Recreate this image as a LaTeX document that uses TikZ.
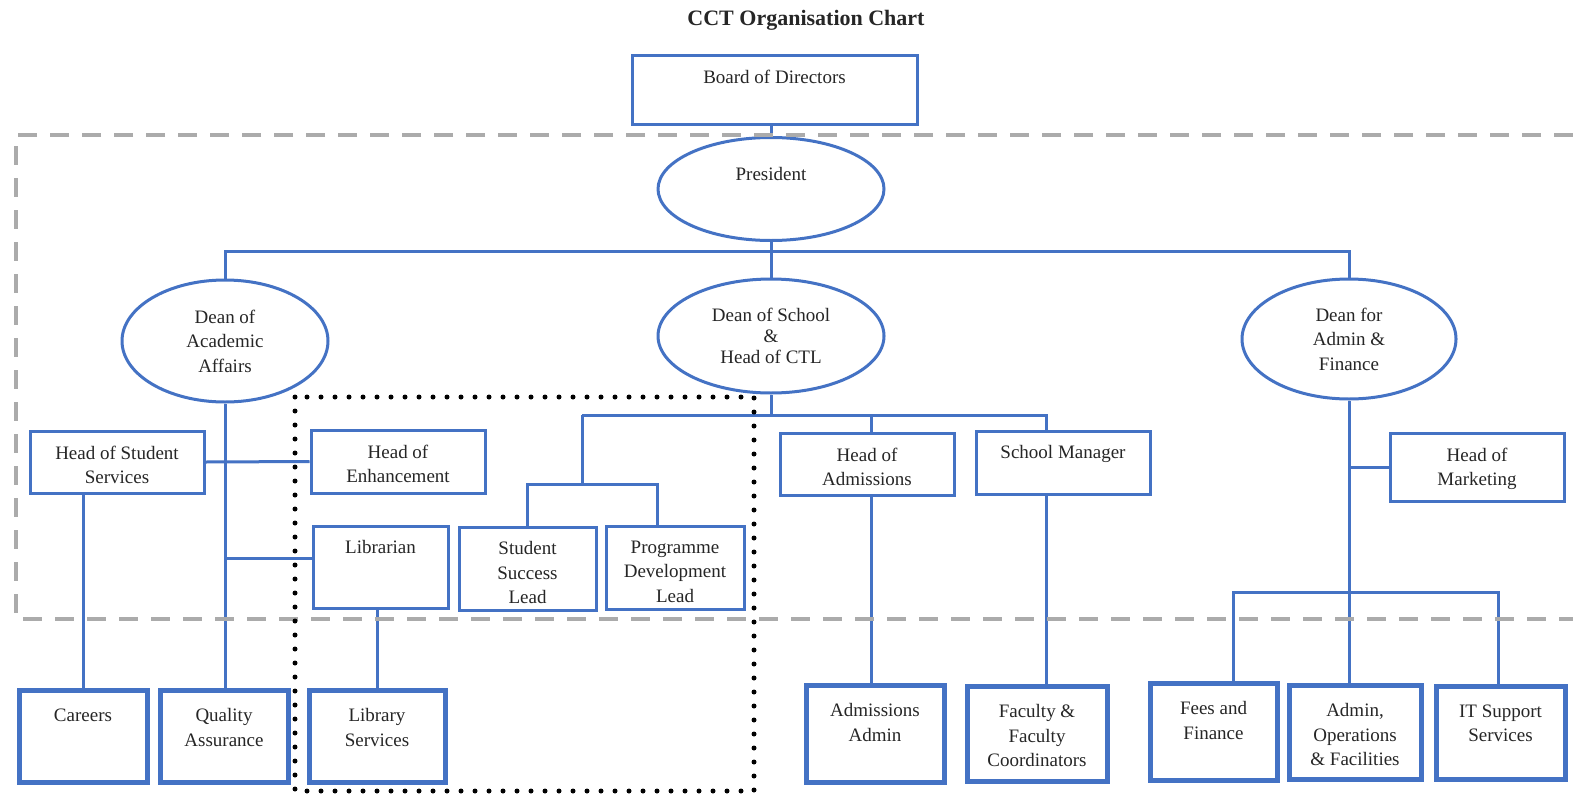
\documentclass[tikz,border=0pt]{standalone}
\usepackage{fontspec}
\setmainfont{Liberation Serif}
\usetikzlibrary{shapes.geometric}
\definecolor{cblue}{HTML}{4472C4}
\definecolor{txtc}{HTML}{262626}
\definecolor{dgray}{HTML}{ABABAB}
\begin{document}
\begin{tikzpicture}[x=1pt,y=-1pt,
 every node/.style={inner sep=0pt},
 lab/.style={anchor=north, yshift=-16pt, inner sep=0pt, align=center, text=txtc, font=\fontsize{19}{24.5}\selectfont},
 txt/.style={label={[lab]north:{#1}}},
 ttxt/.style={label={[lab,yshift=-5pt]north:{#1}}},
 box/.style 2 args={rectangle, draw=cblue, line width=3pt, minimum width=#1pt, minimum height=#2pt},
 tbox/.style 2 args={box={#1}{#2}, line width=5pt},
 ell/.style 2 args={ellipse, draw=cblue, line width=3pt, minimum width=#1pt, minimum height=#2pt, align=center, text=txtc, font=\fontsize{19}{24.5}\selectfont},
 conn/.style={draw=cblue, line width=3pt},
 graybox/.style={draw=dgray, line width=4pt, dash pattern=on 19pt off 13pt},
 dotbox/.style={draw=black, line width=5pt, line cap=round, dash pattern=on 0pt off 14pt},
]
\fill[white] (0,0) rectangle (1573,795);
\useasboundingbox (0,0) rectangle (1573,795);

% title
\node[font=\bfseries\fontsize{22}{26}\selectfont, text=txtc] (title) at (806,20) {CCT Organisation Chart};

% top levels
\node[box={285}{69}, txt={Board of Directors}] (bod) at (774.5,89.5) {};
\node[ell={226}{103}, label={[lab,yshift=-15pt]north:President}] (pres) at (771,189) {};
\node[ell={206}{122}] (daa) at (225,341) {Dean of\\Academic\\Affairs};
\node[ell={226}{114}, font=\fontsize{19}{21}\selectfont] (dsh) at (771,336) {Dean of School\\\&\\Head of CTL};
\node[ell={214}{120}] (daf) at (1349,339) {Dean for\\Admin \&\\Finance};

% middle level
\node[box={174}{62}, txt={Head of Student\\Services}] (hss) at (117,462) {};
\node[box={174}{63}, txt={Head of\\Enhancement}] (he) at (398,461.5) {};
\node[box={135}{82}, txt={Librarian}] (lib) at (380.5,567) {};
\node[box={137}{83}, txt={Student\\Success\\Lead}] (ssl) at (527.5,568.5) {};
\node[box={138}{83}, txt={Programme\\Development\\Lead}] (pdl) at (675,567.5) {};
\node[box={174}{62}, txt={Head of\\Admissions}] (ha) at (867,464) {};
\node[box={174}{63}, txt={School Manager}] (sm) at (1063,462.5) {};
\node[box={174}{68}, txt={Head of\\Marketing}] (hm) at (1477,467) {};

% bottom level
\node[tbox={128}{92}, ttxt={Careers}] (car) at (83,736) {};
\node[tbox={128}{92}, ttxt={Quality\\Assurance}] (qa) at (224,736) {};
\node[tbox={136}{92}, ttxt={Library\\Services}] (ls) at (377,736) {};
\node[tbox={138}{97}, ttxt={Admissions\\Admin}] (aa) at (875,733.5) {};
\node[tbox={140}{95}, ttxt={Faculty \&\\Faculty\\Coordinators}] (ffc) at (1037,733.5) {};
\node[tbox={127}{97}, ttxt={Fees and\\Finance}] (ff) at (1213.5,731.5) {};
\node[tbox={132}{94}, ttxt={Admin,\\Operations\\\& Facilities}] (aof) at (1355,732) {};
\node[tbox={129}{93}, ttxt={IT Support\\Services}] (its) at (1500.5,732.5) {};

% connectors
\coordinate (busM) at (771,251);
\draw[conn] (pres.north) -- (pres.north |- bod.south);
\draw[conn] (pres.south) -- (dsh.north);
\draw[conn] (daa.north) |- (busM) -| (daf.north);
\draw[conn] (daa.south) -- (daa.south |- qa.north);
\draw[conn] (hss.east) -- (he.west);
\coordinate (libIn) at (313,558);
\draw[conn] (daa.south |- libIn) -- (libIn);
\draw[conn] (ls.north |- lib.south) -- (ls.north);
\draw[conn] (car.north |- hss.south) -- (car.north);

\coordinate (b2) at (771,415);
\coordinate (b2L) at (582,415);
\coordinate (b2R) at (1046,415);
\coordinate (b3) at (582,484);
\coordinate (b3R) at (657,484);
\coordinate (haX) at (871,415);
\draw[conn] (dsh.south) -- (b2);
\draw[conn] (b2L) -- (b2R) -- (b2R |- sm.north);
\draw[conn] (haX) -- (haX |- ha.north);
\draw[conn] (haX |- ha.south) -- (haX |- aa.north);
\draw[conn] (b2L) -- (b3);
\draw[conn] (ssl.north) |- (b3R) -- (b3R |- pdl.north);
\draw[conn] (b2R |- sm.south) -- (b2R |- ffc.north);

\draw[conn] (daf.south) -- (daf.south |- aof.north);
\draw[conn] (daf.south |- hm.west) -- (hm.west);
\coordinate (b4L) at (1233,592);
\coordinate (b4R) at (1498,592);
\draw[conn] (b4L |- ff.north) -- (b4L) -- (b4R) -- (b4R |- its.north);

% group outlines
\coordinate (gTR) at (1573,135);
\coordinate (gTL) at (16,135);
\coordinate (gBL) at (16,619);
\coordinate (gBR) at (1573,619);
\draw[graybox] (gTR) -- (gTL) -- (gBL) -- (gBR);
\coordinate (dTL) at (295,397);
\coordinate (dBR) at (754,791);
\draw[dotbox] (dTL) rectangle (dBR);
\end{tikzpicture}
\end{document}
